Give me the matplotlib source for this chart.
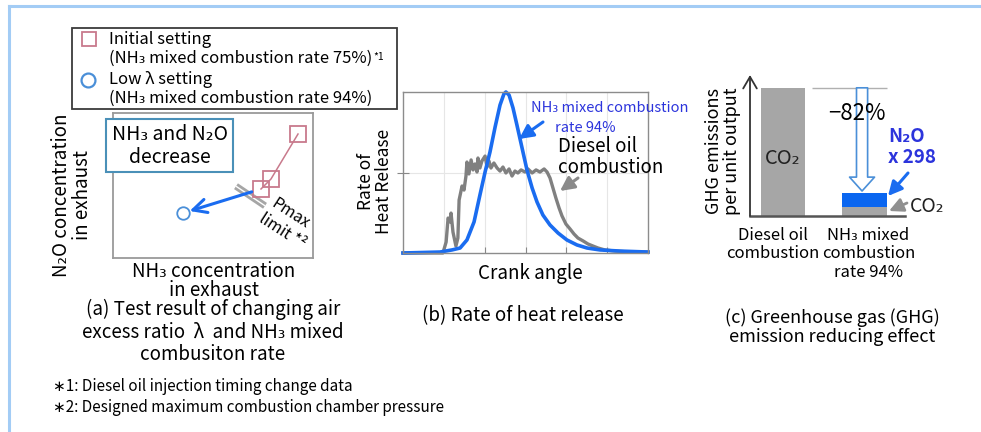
"""Ammonia co-firing test summary: exhaust, heat release and GHG panels."""

import matplotlib
matplotlib.use("Agg")
import matplotlib.pyplot as plt
from matplotlib.patches import Rectangle
from matplotlib.transforms import ScaledTranslation

plt.rcParams["font.family"] = ["Noto Sans CJK JP", "DejaVu Sans"]

W, H, DPI = 981, 432, 100

# (a) exhaust concentrations, arbitrary units (box spans 0-10 on both axes)
initial_nh3 = [9.25, 7.9, 7.4]
initial_n2o = [8.55, 5.45, 4.76]
lowlam_nh3 = [3.5]
lowlam_n2o = [3.1]
pmax_nh3 = [6.15, 7.6]
pmax_n2o = [4.95, 3.6]

# (b) rate of heat release against crank angle, normalised to the NH3 peak
nh3_ca = [0, 15.1, 20.0, 23.3, 26.1, 29.0, 31.4, 33.5, 35.5, 37.6, 39.6, 41.2,
          42.0, 43.3, 44.9, 46.5, 48.6, 50.6, 52.7, 54.7, 57.1, 60.0, 63.3,
          66.9, 71.0, 75.1, 80.4, 88.6, 100]
nh3_rohr = [0, 0.006, 0.019, 0.031, 0.081, 0.193, 0.360, 0.503, 0.627, 0.783,
            0.919, 0.988, 1.0, 0.981, 0.901, 0.795, 0.652, 0.516, 0.404, 0.317,
            0.236, 0.174, 0.124, 0.081, 0.050, 0.031, 0.019, 0.012, 0.006]
diesel_ca = [0, 16.3, 17.6, 18.4, 19.2, 19.6, 20.4, 21.6, 22.4, 22.9, 24.1,
             24.9, 25.7, 26.1, 26.9, 27.8, 28.6, 29.4, 30.2, 30.6, 31.4, 32.2,
             33.5, 34.3, 35.1, 35.9, 37.1, 38.4, 39.6, 40.8, 42.0, 43.3, 44.5,
             45.7, 46.9, 48.2, 49.8, 51.0, 52.7, 54.3, 55.9, 57.6, 58.8, 60.0,
             61.2, 62.4, 63.7, 64.9, 66.5, 68.2, 69.8, 71.4, 73.5, 75.5, 77.6,
             79.6, 82.4, 86.5, 92.7, 100]
diesel_rohr = [0, 0, 0.068, 0.217, 0.193, 0.248, 0.130, 0.043, 0.093, 0.329,
               0.416, 0.391, 0.478, 0.565, 0.491, 0.578, 0.516, 0.553, 0.503,
               0.590, 0.528, 0.571, 0.602, 0.534, 0.571, 0.528, 0.559, 0.528,
               0.509, 0.534, 0.497, 0.522, 0.478, 0.509, 0.497, 0.516, 0.503,
               0.522, 0.497, 0.516, 0.503, 0.522, 0.503, 0.466, 0.404, 0.342,
               0.280, 0.230, 0.180, 0.149, 0.118, 0.093, 0.075, 0.056, 0.043,
               0.031, 0.019, 0.012, 0.006, 0.006]

# (c) GHG emissions per unit output, diesel = 100
ghg_cases = ["Diesel oil\ncombustion", "NH₃ mixed\ncombustion\nrate 94%"]
ghg_co2 = [100, 7]
ghg_n2o = [0, 11]

PINK = "#c87a8c"
LBLUE = "#4a8fd8"
BLUE = "#1a6cf0"
TXTBLUE = "#2c34dc"
GREY = "#808080"

fig = plt.figure(figsize=(W / DPI, H / DPI), dpi=DPI)


def px_axes(left, top, right, bottom):
    ax = fig.add_axes([left / W, 1 - bottom / H, (right - left) / W, (bottom - top) / H])
    ax.patch.set_alpha(0)
    return ax


# ---- (a) ----
axa = px_axes(113, 113, 313, 258)
axa.set_xlim(0, 10)
axa.set_ylim(0, 10)
axa.set_xticks([])
axa.set_yticks([])
for sp in axa.spines.values():
    sp.set_color("#9a9a9a")
    sp.set_linewidth(1.3)
axa.plot(pmax_nh3, pmax_n2o, color="#a6a6a6", lw=5, solid_capstyle="butt")
axa.plot(pmax_nh3, pmax_n2o, color="white", lw=1, solid_capstyle="butt")
axa.plot(initial_nh3, initial_n2o, color=PINK, lw=1.1, marker="s", ms=11,
         mfc="none", mec=PINK, mew=1.3)
axa.plot(lowlam_nh3, lowlam_n2o, ls="none", marker="o", ms=9, mfc="none",
         mec=LBLUE, mew=1.3)
axa.annotate("", xy=(lowlam_nh3[0], lowlam_n2o[0]),
             xytext=(initial_nh3[-1], initial_n2o[-1]),
             arrowprops=dict(arrowstyle="->,head_length=0.7,head_width=0.35",
                             color=BLUE, lw=2.2, shrinkA=7, shrinkB=5,
                             mutation_scale=14))

# ---- (b) ----
axb = px_axes(403, 92, 648, 253)
axb.set_xlim(0, 100)
axb.set_ylim(0, 1)
axb.set_xticks([100 / 6 * i for i in range(1, 6)])
axb.set_yticks([0.5])
axb.set_xticklabels([])
axb.set_yticklabels([])
axb.tick_params(axis="x", direction="in", length=4, color="#888888")
axb.tick_params(axis="y", direction="inout", length=8, color="#888888")
axb.grid(color="#e6e6e6", lw=0.8)
axb.set_axisbelow(True)
for sp in axb.spines.values():
    sp.set_color("#8c8c8c")
    sp.set_linewidth(1.0)
axb.plot(diesel_ca, diesel_rohr, color=GREY, lw=2.4, clip_on=False)
axb.plot(nh3_ca, nh3_rohr, color=BLUE, lw=2.6, clip_on=False)

# ---- (c) ----
axc = px_axes(750, 75, 905, 216)
axc.set_xlim(-0.405, 1.497)
axc.set_ylim(0, 110)
axc.bar([0, 1], ghg_co2, width=0.54, color="#a6a6a6")
axc.bar([0, 1], ghg_n2o, width=0.54, bottom=ghg_co2, color="#0a66f0")
axc.hlines(ghg_co2[0], 0.36, 1.27, color="#b0b0b0", lw=1)
axc.annotate("", xy=(0.97, ghg_co2[1] + ghg_n2o[1] + 1.5), xytext=(0.97, ghg_co2[0]),
             arrowprops=dict(arrowstyle="simple,head_length=0.5,head_width=0.9,tail_width=0.4",
                             fc="white", ec=LBLUE, lw=1.2, shrinkA=0, shrinkB=0,
                             mutation_scale=20))
axc.text(0, 45, "CO₂", ha="center", va="center", fontsize=14.5, color="#222222")
for side in ("top", "right", "left"):
    axc.spines[side].set_visible(False)
axc.spines["bottom"].set_color("#555555")
axc.spines["bottom"].set_linewidth(1.8)
axc.set_yticks([])
axc.set_xticks([0, 1], ghg_cases, fontsize=12, linespacing=1.1)
axc.tick_params(axis="x", length=0, pad=8)
for lbl, dx in zip(axc.get_xticklabels(), [-10, 4]):
    lbl.set_transform(lbl.get_transform() + ScaledTranslation(dx / DPI, 0, fig.dpi_scale_trans))
axc.annotate("", xy=(0, 1), xytext=(0, 0), xycoords="axes fraction",
             arrowprops=dict(arrowstyle="->,head_length=0.6,head_width=0.35",
                             color="#333333", lw=1.3, shrinkA=0, shrinkB=0,
                             mutation_scale=14))

# ---- overlay: frame, legend, labels and call-outs in pixel space ----
ax0 = fig.add_axes([0, 0, 1, 1])
ax0.set_xlim(0, W)
ax0.set_ylim(H, 0)
ax0.axis("off")
ax0.patch.set_alpha(0)

ax0.plot([8.5, W], [5.5, 5.5], color="#a3ccf5", lw=2.2)
ax0.plot([8.5, 8.5], [5.5, H], color="#a3ccf5", lw=2.2)


def txt(x, y, s, size=13.5, ha="center", **kw):
    return ax0.text(x, y, s, fontsize=size, ha=ha, va="center", **kw)


def arrow(x0, y0, x1, y1, color, lw=2.0):
    ax0.annotate("", xy=(x1, y1), xytext=(x0, y0),
                 arrowprops=dict(arrowstyle="-|>,head_length=0.6,head_width=0.3",
                                 color=color, lw=lw, shrinkA=0, shrinkB=0,
                                 mutation_scale=14))


# legend of panel (a)
ax0.add_patch(Rectangle((72, 28), 325, 81, fc="white", ec="#3a3a3a", lw=1.3))
ax0.plot([89], [39], marker="s", ms=10, mfc="none", mec=PINK, mew=1.3)
ax0.plot([88], [80], marker="o", ms=10, mfc="none", mec=LBLUE, mew=1.6)
txt(109, 39, "Initial setting", 12, "left")
t75 = txt(109, 58, "(NH₃ mixed combustion rate 75%)", 12, "left")
ax0.annotate("*1", xy=(1, 1), xycoords=t75, xytext=(1, -2), textcoords="offset points",
             fontsize=7.5, ha="left", va="top")
txt(109, 79, "Low λ setting", 12, "left")
txt(109, 98, "(NH₃ mixed combustion rate 94%)", 12, "left")

ax0.add_patch(Rectangle((106, 119), 127, 53, fc="white", ec="#4a90b8", lw=1.5))
txt(169.5, 146, "NH₃ and N₂O\ndecrease", 14, linespacing=1.1)
txt(290, 214, "Pmax", 11.5, rotation=-33, rotation_mode="anchor")
txt(282, 231, "limit *²", 11.5, rotation=-33, rotation_mode="anchor")

txt(72, 195, "N₂O concentration\nin exhaust", 13.5, rotation=90, linespacing=1.0)
txt(214, 281, "NH₃ concentration\nin exhaust", 13.5, linespacing=0.85)
txt(213, 332, "(a) Test result of changing air\nexcess ratio  λ  and NH₃ mixed\ncombusiton rate",
    13.5, linespacing=1.1)

# panel (b) labels
txt(375, 181, "Rate of\nHeat Release", 12.5, rotation=90, linespacing=1.05)
txt(531, 108, "NH₃ mixed combustion", 10.5, "left", color=TXTBLUE)
txt(585, 128, "rate 94%", 10.5, color=TXTBLUE)
arrow(543, 122, 519, 139, BLUE, 2.2)
txt(558, 157, "Diesel oil\ncombustion", 13.5, "left", linespacing=1.05)
arrow(578, 178, 560, 191, "#8a8a8a", 2.2)
txt(530, 273, "Crank angle", 13.5)
txt(523, 316, "(b) Rate of heat release", 13.5)

# panel (c) labels
txt(723, 151, "GHG emissions\nper unit output", 13, rotation=90, linespacing=1.05)
txt(857, 113, "−82%", 16)
txt(888, 147, "N₂O\nx 298", 13.5, "left", color=TXTBLUE, fontweight="bold",
    linespacing=1.1)
arrow(908, 173, 888, 196, BLUE, 2.2)
txt(910, 206, "CO₂", 14, "left", color="#222222")
arrow(907, 203, 889, 211, "#909090", 2.0)
txt(832, 327, "(c) Greenhouse gas (GHG)\nemission reducing effect", 13, linespacing=1.1)

# footnotes
txt(53, 397, "∗1: Diesel oil injection timing change data\n"
    "∗2: Designed maximum combustion chamber pressure", 11, "left", linespacing=1.25)

fig.savefig("out.png", dpi=DPI)
